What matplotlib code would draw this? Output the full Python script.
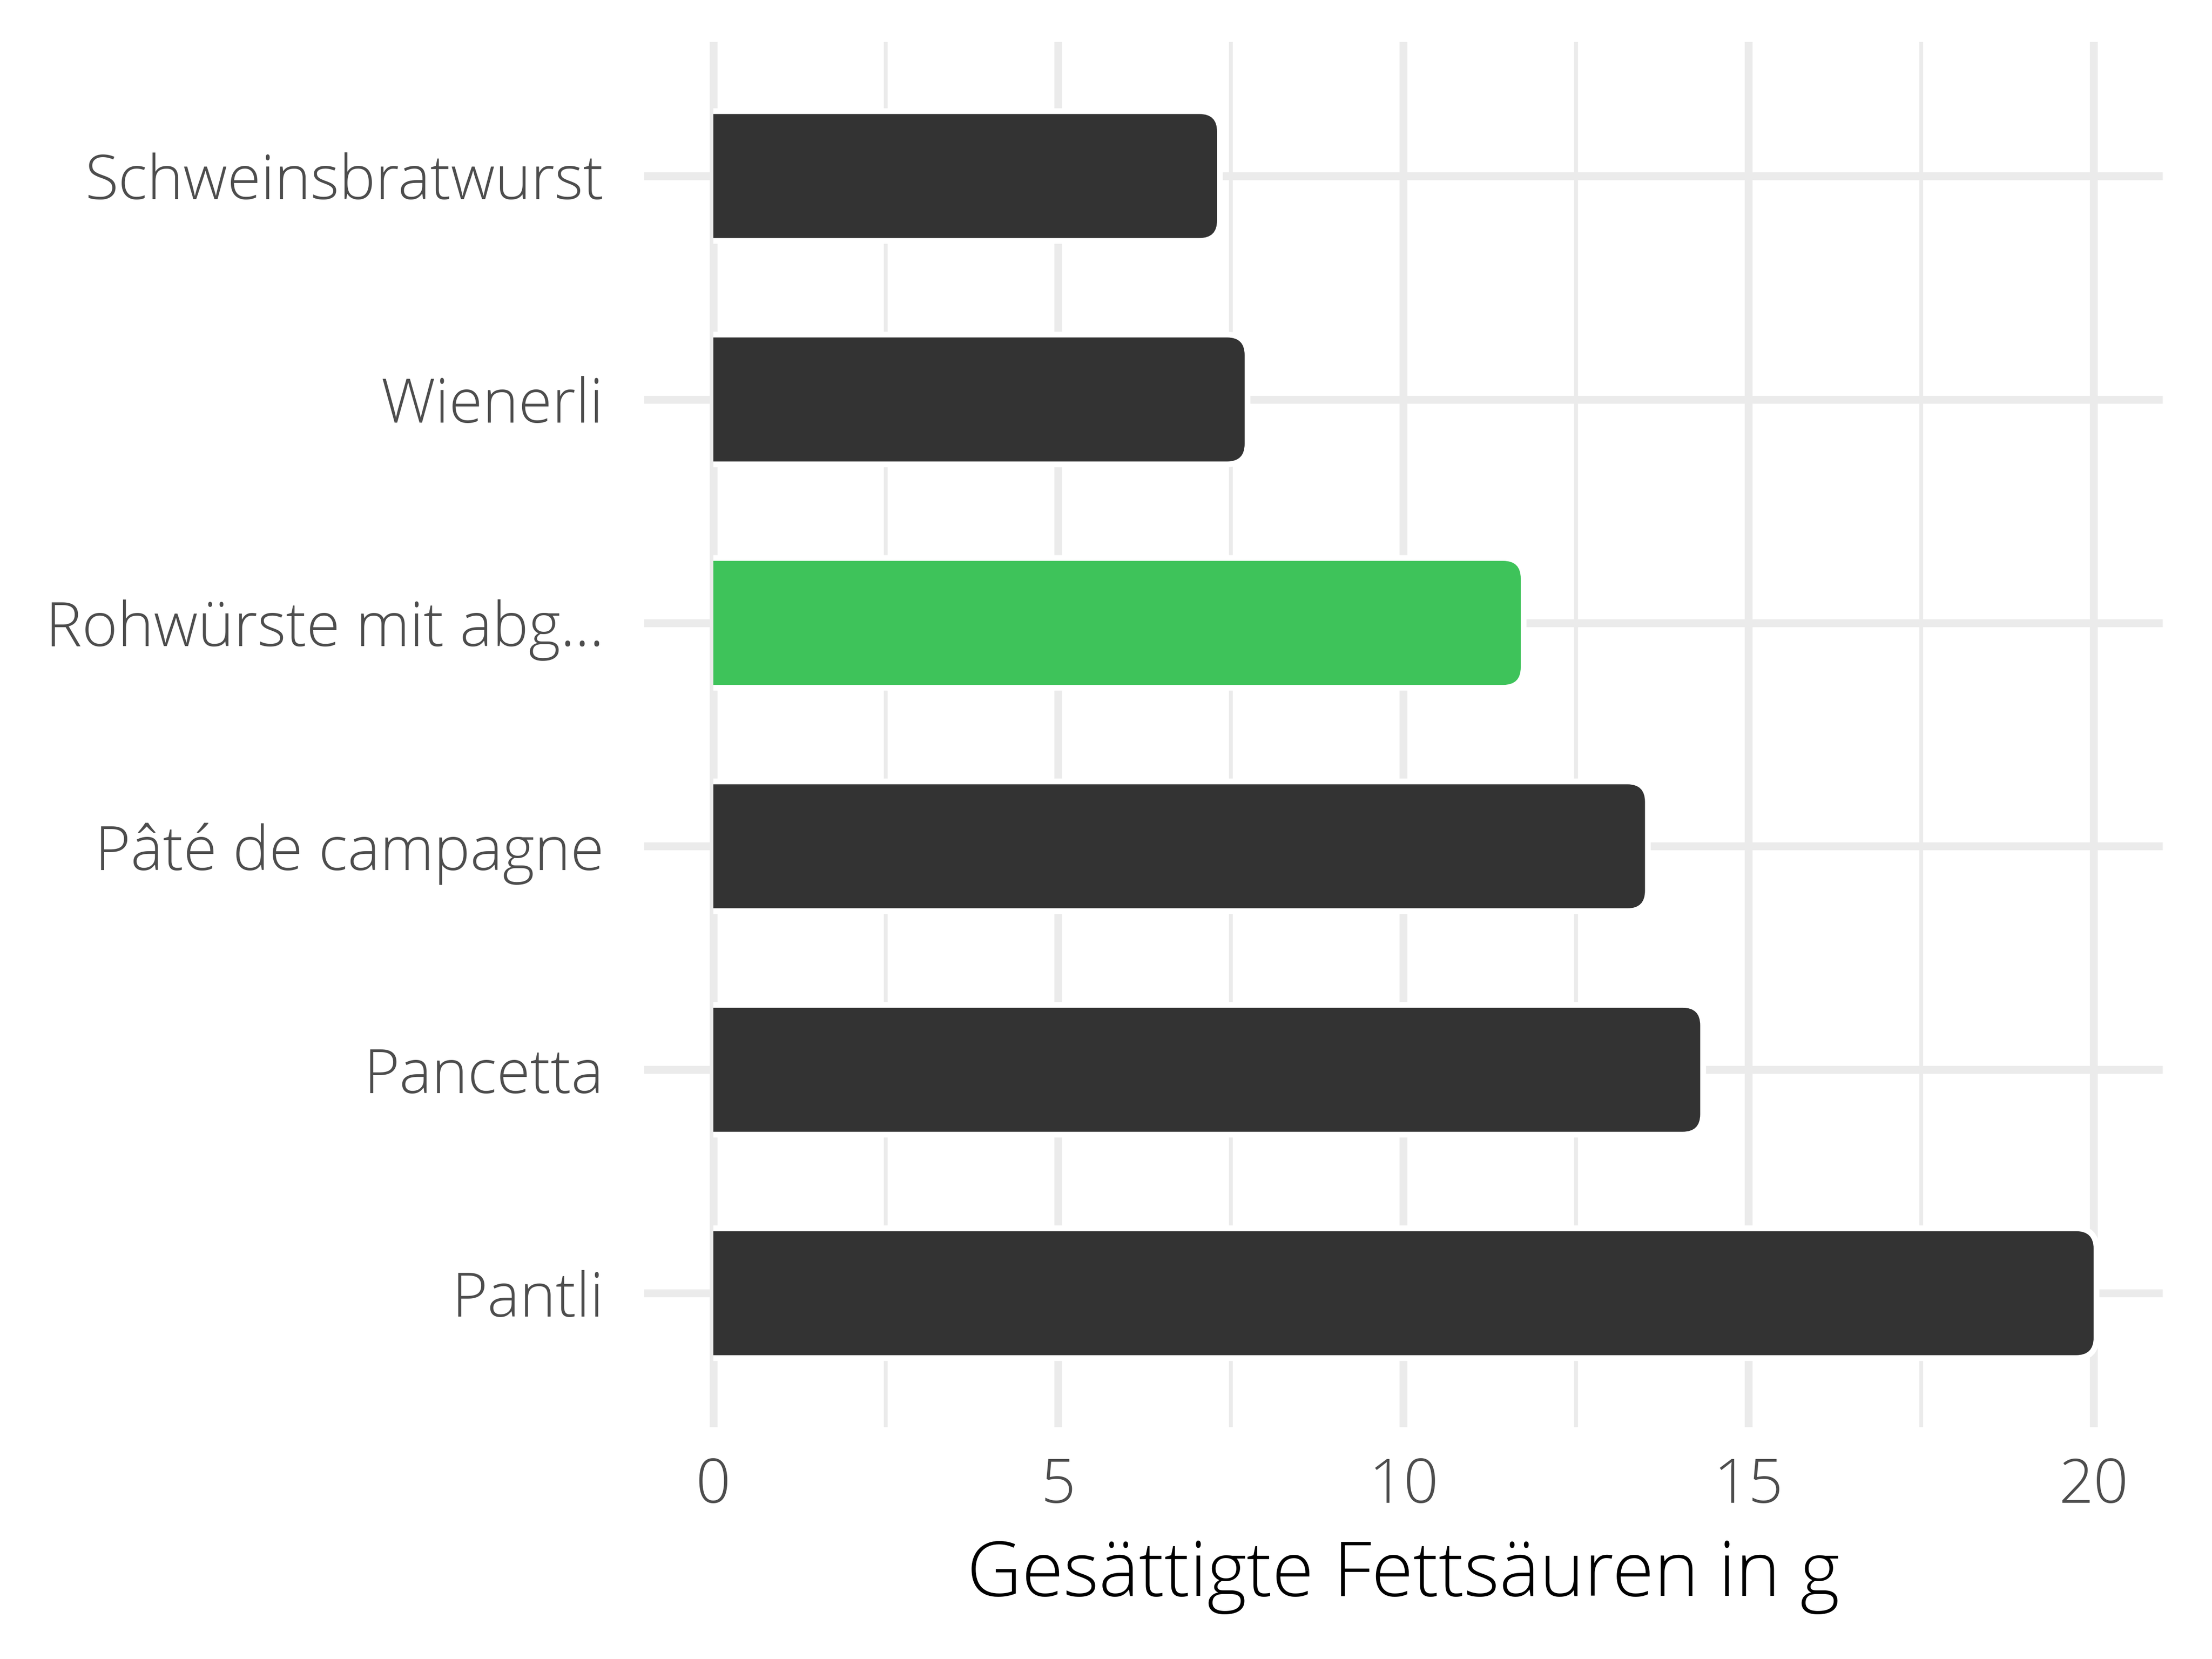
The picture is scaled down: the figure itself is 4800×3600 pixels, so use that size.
import matplotlib
matplotlib.use("Agg")
import matplotlib.pyplot as plt
from matplotlib.patches import FancyBboxPatch, Rectangle
from matplotlib.ticker import MultipleLocator

categories = ["Schweinsbratwurst", "Wienerli", "Rohwürste mit abg...",
              "Pâté de campagne", "Pancetta", "Pantli"]
values = [7.3, 7.7, 11.7, 13.5, 14.3, 20.0]
highlight = "Rohwürste mit abg..."
xlabel = "Gesättigte Fettsäuren in g"
xticks = [0, 5, 10, 15, 20]

DARK = "#333333"
GREEN = "#3EC35A"
GRID = "#EBEBEB"
TEXT = "#4D4D4D"

plt.rcParams['font.family'] = ['Open Sans', 'DejaVu Sans']
plt.rcParams['font.weight'] = 'light'

fig = plt.figure(figsize=(16, 12), dpi=300)
ax = fig.add_axes([0.2912, 0.1397, 0.9777 - 0.2912, 0.9747 - 0.1397])
ax.set_xlim(-1, 21)
ax.set_ylim(len(categories) - 0.4, -0.6)

ypos = list(range(len(categories)))
colors = [GREEN if c == highlight else DARK for c in categories]
bars = ax.barh(ypos, values, height=0.555, color=colors, zorder=3)

# grid
ax.xaxis.set_major_locator(MultipleLocator(5))
ax.xaxis.set_minor_locator(MultipleLocator(2.5))
ax.set_xticks(xticks)
ax.set_yticks(ypos)
ax.set_yticklabels(categories)
ax.grid(which='major', axis='both', color=GRID, linewidth=4.1, zorder=0)
ax.grid(which='minor', axis='x', color=GRID, linewidth=2.0, zorder=0)
ax.set_axisbelow(True)
for s in ax.spines.values():
    s.set_visible(False)
ax.tick_params(axis='both', which='both', length=0)
ax.tick_params(axis='y', pad=21, labelsize=31.8, labelcolor=TEXT)
ax.tick_params(axis='x', pad=15, labelsize=31.8, labelcolor=TEXT)
ax.set_xlabel(xlabel, fontsize=39.5, color='black', labelpad=11,
              fontweight='light')

# rounded bars with white halo (square on the left at zero)
fig.canvas.draw()
inv = ax.transData.inverted()
p0 = inv.transform((0, 0))
p1 = inv.transform((38, 38))
rx = abs(p1[0] - p0[0])
ry = abs(p1[1] - p0[1])
clip = Rectangle((0, -10), 100, 100, transform=ax.transData)
for b, col in zip(bars, colors):
    x0, y0, w, h = b.get_x(), b.get_y(), b.get_width(), b.get_height()
    b.set_visible(False)
    style = f"round,pad=0,rounding_size={rx}"
    halo = FancyBboxPatch((x0 - rx, y0), w + rx, h, boxstyle=style,
                          mutation_aspect=ry / rx, facecolor='white',
                          edgecolor='white', linewidth=6.0, zorder=2.5)
    fill = FancyBboxPatch((x0 - rx, y0), w + rx, h, boxstyle=style,
                          mutation_aspect=ry / rx, facecolor=col,
                          edgecolor='none', linewidth=0, zorder=3)
    for p in (halo, fill):
        ax.add_patch(p)
        p.set_clip_path(clip)

fig.savefig("out.png", dpi=300, facecolor='white')
